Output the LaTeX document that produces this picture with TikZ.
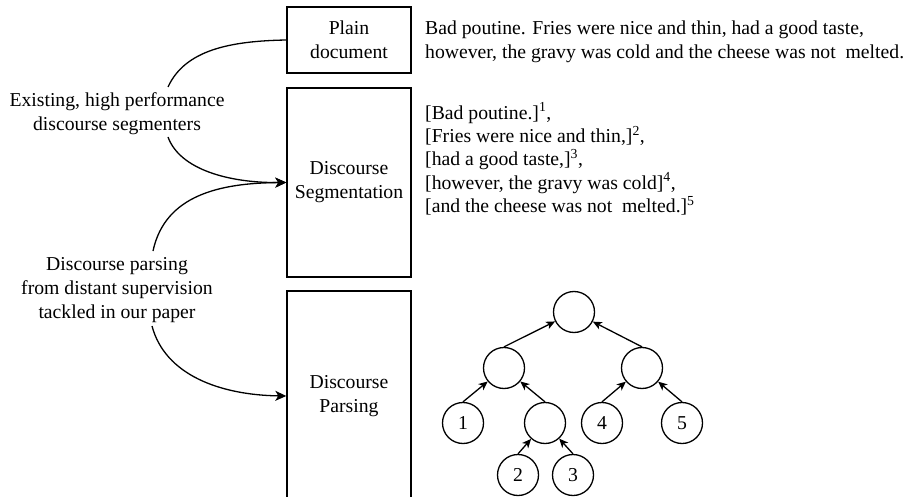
\documentclass[tikz,border=0pt]{standalone}
\usepackage{fontspec}
\setmainfont{Liberation Serif}
\usetikzlibrary{arrows.meta}
\begin{document}
\begin{tikzpicture}[x=1pt,y=-1pt,
  txt/.style={font=\fontsize{19.7}{24}\selectfont, inner sep=0pt},
  boxnode/.style={draw, line width=1.4pt, minimum width=124pt, align=center, font=\fontsize{19.7}{24}\selectfont, inner sep=0pt},
  link/.style={line width=1.3pt},
  linkarrow/.style={line width=1.3pt, -{Stealth[length=11pt,width=10pt,inset=3pt]}},
  tnode/.style={draw, circle, line width=1.3pt, minimum size=41pt, inner sep=0pt, font=\fontsize{19.7}{24}\selectfont},
  tarrow/.style={line width=1.3pt, -{Stealth[length=9pt,width=8pt,inset=2.5pt]}}
]
\clip (0,0) rectangle (907,497);
\fill[white] (0,0) rectangle (907,497);

% boxes
\node[boxnode, minimum height=66pt] (plain) at (349,40) {Plain\\document};
\node[boxnode, minimum height=189pt] (seg) at (349,182.5) {Discourse\\Segmentation};
\node[boxnode, minimum height=210pt] (parse) at (349,396) {Discourse\\Parsing};

% left labels
\node[txt, align=center] (lab1) at (117,113.5) {Existing, high performance\\discourse segmenters};
\node[txt, align=center] (lab2) at (117,290.5) {Discourse parsing\\from distant supervision\\tackled in our paper};

\coordinate (l1t) at (168,87);
\coordinate (l1b) at (168,137);
\coordinate (l2t) at (153,251);
\coordinate (l2b) at (152,326);

\draw[link] (l1t) .. controls (185,50) and (230,41) .. (plain.west);
\draw[linkarrow] (l1b) .. controls (180,170) and (230,183) .. (seg.west);
\draw[linkarrow] (l2t) .. controls (165,195) and (220,183) .. (seg.west);
\draw[linkarrow] (l2b) .. controls (165,375) and (220,395) .. (parse.west);

% right texts
\node[txt, align=left, anchor=west] (doc) at (425,41.5) {Bad poutine. Fries were nice and thin, had a good taste,\\however, the gravy was cold and the cheese was not\ \ melted.};
\node[txt, align=left, anchor=west, font=\fontsize{19.7}{23.3}\selectfont] (segs) at (425,159) {{}[Bad poutine.]\textsuperscript{1},\\{}%
[Fries were nice and thin,]\textsuperscript{2},\\{}%
[had a good taste,]\textsuperscript{3},\\{}%
[however, the gravy was cold]\textsuperscript{4},\\{}%
[and the cheese was not\ \ melted.]\textsuperscript{5}};

% tree
\node[tnode] (root) at (574,312) {};
\node[tnode] (lm) at (504,368) {};
\node[tnode] (rm) at (642,368) {};
\node[tnode] (n1) at (463,423) {1};
\node[tnode] (in) at (545,423) {};
\node[tnode] (n4) at (602,423) {4};
\node[tnode] (n5) at (682,423) {5};
\node[tnode] (n2) at (518,475) {2};
\node[tnode] (n3) at (573,475) {3};

\draw[tarrow] (lm.north) -- (root);
\draw[tarrow] (rm.north) -- (root);
\draw[tarrow] (n1.north) -- (lm);
\draw[tarrow] (in.north) -- (lm);
\draw[tarrow] (n4.north) -- (rm);
\draw[tarrow] (n5.north) -- (rm);
\draw[tarrow] (n2.north) -- (in);
\draw[tarrow] (n3.north) -- (in);
\end{tikzpicture}
\end{document}
